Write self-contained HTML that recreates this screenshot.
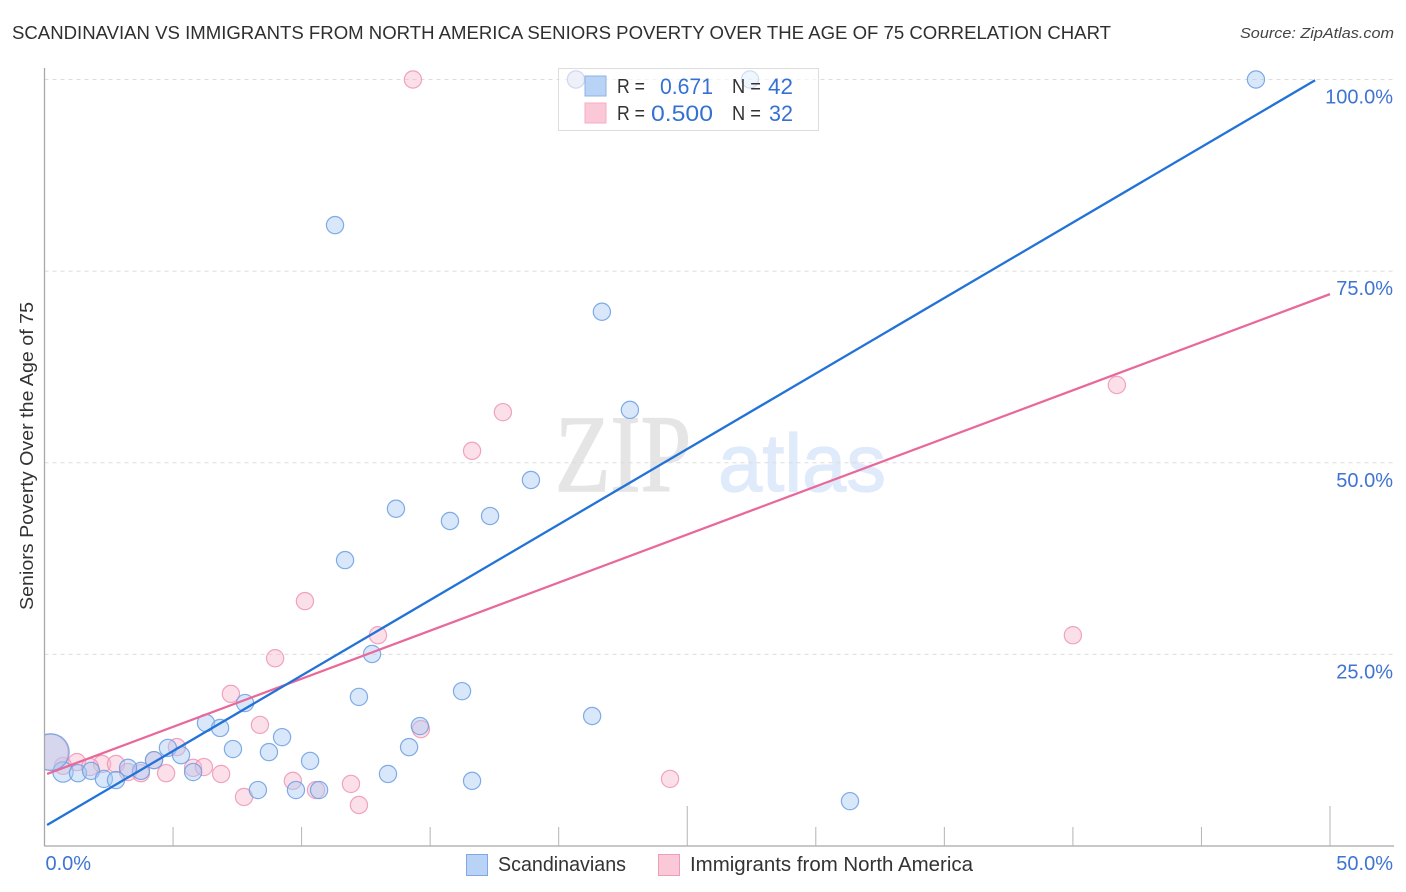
<!DOCTYPE html>
<html lang="en">
<head>
<meta charset="utf-8">
<title>Scandinavian vs Immigrants from North America Seniors Poverty Correlation Chart</title>
<style>
html,body{margin:0;padding:0;background:#fff;width:1406px;height:892px;overflow:hidden}
svg{display:block;font-family:"Liberation Sans",sans-serif}
</style>
</head>
<body>
<svg id="chart" xmlns="http://www.w3.org/2000/svg" width="1406" height="892" viewBox="0 0 1406 892">
<rect width="1406" height="892" fill="#fff"/>
<text x="12" y="39" font-size="18.5" fill="#2f2f2f" textLength="1099" lengthAdjust="spacingAndGlyphs">SCANDINAVIAN VS IMMIGRANTS FROM NORTH AMERICA SENIORS POVERTY OVER THE AGE OF 75 CORRELATION CHART</text>
<text x="1394" y="38" font-size="15" font-style="italic" fill="#444" text-anchor="end" textLength="154" lengthAdjust="spacingAndGlyphs">Source: ZipAtlas.com</text>
<g>
<text x="555" y="491" font-family="'Liberation Serif',serif" font-size="110" fill="#e5e5e5" stroke="#e5e5e5" stroke-width="1.5" textLength="136" lengthAdjust="spacingAndGlyphs">ZIP</text>
<text x="718" y="491" font-size="82" fill="#dfeafa" stroke="#dfeafa" stroke-width="1.2" textLength="168" lengthAdjust="spacingAndGlyphs">atlas</text>
</g>
<g id="grid"></g>
<g id="points-immigrants"></g>
<g id="points-scandinavians"></g>
<rect x="0" y="700" width="44.5" height="100" fill="#fff"/>
<g id="axes"></g>
<g id="trends"></g>
<g id="tick-labels"></g>
<text transform="translate(33,456) rotate(-90)" font-size="18.5" fill="#333" text-anchor="middle" textLength="308" lengthAdjust="spacingAndGlyphs">Seniors Poverty Over the Age of 75</text>
<g>
<rect x="558.5" y="68.5" width="260" height="62" fill="#fff" fill-opacity="0.62" stroke="#ddd"/>
<rect x="585" y="76" width="21" height="20" fill="#b9d3f7" stroke="#8fb2e6"/>
<rect x="585" y="103" width="21" height="20" fill="#fbc8d8" stroke="#f4adc4"/>
<g font-size="20.5" fill="#333">
<text x="617" y="93" textLength="28" lengthAdjust="spacingAndGlyphs">R =</text>
<text x="732" y="93" textLength="29" lengthAdjust="spacingAndGlyphs">N =</text>
<text x="617" y="120" textLength="28" lengthAdjust="spacingAndGlyphs">R =</text>
<text x="732" y="120" textLength="29" lengthAdjust="spacingAndGlyphs">N =</text>
</g>
<g font-size="22" fill="#3571d3">
<text x="660" y="94" textLength="53" lengthAdjust="spacingAndGlyphs">0.671</text>
<text x="768" y="94" textLength="25" lengthAdjust="spacingAndGlyphs">42</text>
<text x="651" y="121" font-size="22" textLength="62" lengthAdjust="spacingAndGlyphs">0.500</text>
<text x="769" y="121" textLength="24" lengthAdjust="spacingAndGlyphs">32</text>
</g>
</g>
<g>
<g>
<rect x="466.5" y="854.5" width="21" height="21" fill="#b9d3f7" stroke="#7fa8e4"/>
<text x="498" y="871" font-size="20" fill="#333" textLength="128" lengthAdjust="spacingAndGlyphs">Scandinavians</text>
</g>
<g>
<rect x="658.5" y="854.5" width="21" height="21" fill="#fbc8d8" stroke="#ee9db8"/>
<text x="690" y="871" font-size="20" fill="#333" textLength="283" lengthAdjust="spacingAndGlyphs">Immigrants from North America</text>
</g>
</g>
</svg>
<script>
var xTickValues = [5, 10, 15, 20, 25, 30, 35, 40, 45, 50];
var xMajorTicks = [25, 50];
var yGridValues = [100, 75, 50, 25];
var yTickLabels = ["100.0%", "75.0%", "50.0%", "25.0%"];
var xEdgeValues = [0, 50];
var xEdgeLabels = ["0.0%", "50.0%"];

var scandinavianX = [47.12, 27.44, 20.67, 11.30, 21.68, 22.77, 18.92, 13.67, 15.77, 17.33, 11.69, 12.74, 16.24, 12.23, 21.30, 7.80, 6.28, 6.83, 14.60, 14.18, 9.24, 7.33, 8.73, 10.33, 4.80, 5.31, 4.26, 13.36, 16.63, 5.78, 3.75, 3.25, 8.30, 9.78, 10.68, 31.33, 0.72, 1.30, 1.81, 2.31, 2.78, 0.25];
var scandinavianY = [100, 100, 100, 81.0, 69.7, 56.9, 47.75, 44.0, 42.4, 43.05, 37.3, 25.05, 20.2, 19.45, 16.96, 18.65, 16.05, 15.4, 15.65, 12.9, 14.2, 12.65, 12.25, 11.1, 12.8, 11.85, 11.2, 9.4, 8.5, 9.65, 9.8, 10.2, 7.3, 7.3, 7.3, 5.85, 9.65, 9.5, 9.8, 8.75, 8.6, 12.25];
var scandinavianWeight = [1, 1, 1, 1, 1, 1, 1, 1, 1, 1, 1, 1, 1, 1, 1, 1, 1, 1, 1, 1, 1, 1, 1, 1, 1, 1, 1, 1, 1, 1, 1, 1, 1, 1, 1, 1, 1.4, 1, 1, 1, 1, 4.5];

var immigrantX = [20.67, 14.33, 41.71, 17.83, 16.63, 10.13, 40.0, 12.97, 8.97, 7.25, 8.38, 14.64, 5.15, 4.26, 24.33, 1.26, 0.72, 2.24, 2.78, 1.77, 3.25, 3.75, 4.73, 5.78, 6.20, 6.87, 9.66, 7.76, 10.56, 11.92, 12.23, 0.21];
var immigrantY = [100, 100, 60.15, 56.6, 51.55, 31.95, 27.5, 27.5, 24.5, 19.85, 15.8, 15.25, 12.9, 11.2, 8.75, 10.95, 10.45, 10.7, 10.7, 10.3, 9.65, 9.5, 9.5, 10.2, 10.3, 9.4, 8.5, 6.4, 7.3, 8.1, 5.35, 12.25];
var immigrantWeight = [1, 1, 1, 1, 1, 1, 1, 1, 1, 1, 1, 1, 1, 1, 1, 1, 1, 1, 1, 1, 1, 1, 1, 1, 1, 1, 1, 1, 1, 1, 1, 4.5];

var scandinavianTrendX = [0.1, 49.42];
var scandinavianTrendY = [2.74, 99.9];
var immigrantTrendX = [0.1, 50];
var immigrantTrendY = [9.4, 72];

var NS = "http://www.w3.org/2000/svg";
function xScale(v) { return 44.5 + v * 25.71; }
function yScale(v) { return 846 - v * 7.665; }

function node(parentId, tag, attrs) {
  var el = document.createElementNS(NS, tag);
  for (var k in attrs) { el.setAttribute(k, attrs[k]); }
  document.getElementById(parentId).appendChild(el);
  return el;
}

yGridValues.forEach(function (v, i) {
  var line = node("grid", "line", { x1: 44.5, x2: 1394, y1: yScale(v), y2: yScale(v), stroke: "#dcdcdc", "stroke-width": 1, "stroke-dasharray": "4 4" });
  
  
  var label = node("tick-labels", "text", { x: 1393, y: yScale(v) + 24, "font-size": 20, fill: "#3f74d2", "text-anchor": "end" });
  
  
  label.textContent = yTickLabels[i];
});

var yAxis = node("axes", "line", { x1: 44.5, x2: 44.5, y1: 68, y2: 846, stroke: "#a8a8a8", "stroke-width": 1.3 });


var xAxis = node("axes", "line", { x1: 44, x2: 1394, y1: 846, y2: 846, stroke: "#a8a8a8", "stroke-width": 1.3 });



xTickValues.forEach(function (v) {
  var top = xMajorTicks.indexOf(v) >= 0 ? 806 : 827;
  var tick = node("axes", "line", { x1: xScale(v), x2: xScale(v), y1: top, y2: 846, stroke: "#b4b4b4", "stroke-width": 1 });
  
  
});

xEdgeValues.forEach(function (v, i) {
  var label = node("tick-labels", "text", { x: i === 0 ? xScale(v) + 1 : 1393, y: 870, "font-size": 20, fill: "#3f74d2", "text-anchor": i === 0 ? "start" : "end" });
  
  
  label.textContent = xEdgeLabels[i];
});

immigrantX.forEach(function (v, i) {
  var dot = node("points-immigrants", "circle", { cx: xScale(v), cy: yScale(immigrantY[i]), r: 8.6 * Math.sqrt(immigrantWeight[i]), fill: "#f9b4cb", "fill-opacity": 0.42, stroke: "#ee8fb0", "stroke-opacity": 0.8, "stroke-width": 1.2 });
  
  
});

scandinavianX.forEach(function (v, i) {
  var dot = node("points-scandinavians", "circle", { cx: xScale(v), cy: yScale(scandinavianY[i]), r: 8.6 * Math.sqrt(scandinavianWeight[i]), fill: "#a9cbf5", "fill-opacity": 0.45, stroke: "#6c9ee2", "stroke-opacity": 0.85, "stroke-width": 1.2 });
  
  
});

var immigrantTrend = node("trends", "line", { x1: xScale(immigrantTrendX[0]), y1: yScale(immigrantTrendY[0]), x2: xScale(immigrantTrendX[1]), y2: yScale(immigrantTrendY[1]), stroke: "#e9689a", "stroke-width": 2.3 });


var scandinavianTrend = node("trends", "line", { x1: xScale(scandinavianTrendX[0]), y1: yScale(scandinavianTrendY[0]), x2: xScale(scandinavianTrendX[1]), y2: yScale(scandinavianTrendY[1]), stroke: "#2272d8", "stroke-width": 2.3 });


</script>
</body>
</html>
